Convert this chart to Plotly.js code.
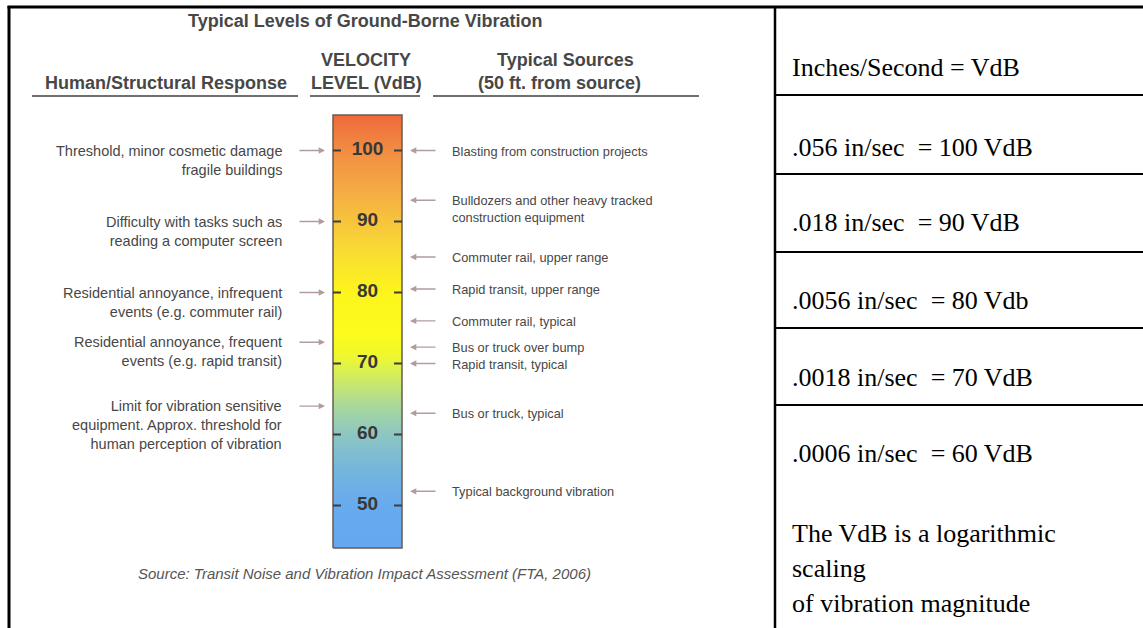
<!DOCTYPE html>
<html><head><meta charset="utf-8">
<script src="https://cdn.plot.ly/plotly-3.0.1.min.js"></script>
<style>html,body{margin:0;padding:0;background:#fff}</style>
</head><body><div id="chart" style="width:1143px;height:628px"></div>
<script>
// ---------------- DATA ----------------
const chartTitle = 'Typical Levels of Ground-Borne Vibration';
const headerResponse = 'Human/Structural Response';
const headerLevel = ['VELOCITY', 'LEVEL (VdB)'];
const headerSources = ['Typical Sources', '(50 ft. from source)'];
const scaleRange = [44, 105];               // VdB extent of the colour bar
const tickValues = [100, 90, 80, 70, 60, 50];
const tickLabels = ['100', '90', '80', '70', '60', '50'];
const gradientLevels = [44, 50, 55, 60, 64, 68, 71, 74, 80, 85, 90, 95, 100, 105];
const gradientColors = ['#66a8f0', '#68aaee', '#74b6dc', '#8cc6c2', '#a8d89c', '#d0ec60', '#eef830', '#fbfb1c',
                        '#fdf51c', '#f9e030', '#f7c43c', '#f4a844', '#f28c42', '#ee6a3a'];
const responseLevels = [100, 90, 80, 73, 64];
const responseLabels = [
  'Threshold, minor cosmetic damage<br>fragile buildings',
  'Difficulty with tasks such as<br>reading a computer screen',
  'Residential annoyance, infrequent<br>events (e.g. commuter rail)',
  'Residential annoyance, frequent<br>events (e.g. rapid transit)',
  'Limit for vibration sensitive<br>equipment. Approx. threshold for<br>human perception of vibration'
];
const sourceLevels = [100, 93, 85, 80.5, 76, 72.3, 70, 63, 52];
const sourceLabels = [
  'Blasting from construction projects',
  'Bulldozers and other heavy tracked<br>construction equipment',
  'Commuter rail, upper range',
  'Rapid transit, upper range',
  'Commuter rail, typical',
  'Bus or truck over bump',
  'Rapid transit, typical',
  'Bus or truck, typical',
  'Typical background vibration'
];
const sourceNote = 'Source: Transit Noise and Vibration Impact Assessment (FTA, 2006)';
const conversionLabels = ['Inches/Second = VdB', '.056 in/sec  = 100 VdB', '.018 in/sec  = 90 VdB',
                          '.0056 in/sec  = 80 Vdb', '.0018 in/sec  = 70 VdB', '.0006 in/sec  = 60 VdB'];
const noteLines = ['The VdB is a logarithmic', 'scaling', 'of vibration magnitude'];

// ---------------- LAYOUT CONSTANTS ----------------
const W = 1143, H = 628;
const PX_PER_VDB = 7.1, Y100 = 150.5;           // pixel row of 100 VdB
const yTop = 100 + Y100 / PX_PER_VDB;
const yBot = yTop - H / PX_PER_VDB;
const P = py => 1 - py / H;                      // pixel row -> paper
const BAR = {x0: 333, x1: 402};
const barMid = (BAR.x0 + BAR.x1) / 2;
const sans = 'Liberation Sans, Arial, sans-serif';
const serif = 'Liberation Serif, Times New Roman, serif';
const grey = '#474747';
const arrowCol = '#b39c9c';

// ---------------- TRACES ----------------
const span = scaleRange[1] - scaleRange[0];
const barTrace = {
  type: 'scatter', mode: 'lines', hoverinfo: 'skip', showlegend: false,
  x: [BAR.x0, BAR.x1, BAR.x1, BAR.x0, BAR.x0],
  y: [scaleRange[0], scaleRange[0], scaleRange[1], scaleRange[1], scaleRange[0]],
  fill: 'toself',
  fillgradient: {
    type: 'vertical', start: scaleRange[0], stop: scaleRange[1],
    colorscale: gradientLevels.map((l, i) => [(l - scaleRange[0]) / span, gradientColors[i]])
  },
  line: {color: '#6a5c52', width: 1.5}
};
const tickTextTrace = {
  type: 'scatter', mode: 'text', hoverinfo: 'skip', showlegend: false,
  x: tickValues.map(() => barMid), y: tickValues, text: tickLabels.map(t => '<b>' + t + '</b>'),
  textposition: 'middle center',
  textfont: {family: sans, size: 19, color: '#383838'}
};

// ---------------- SHAPES ----------------
const shapes = [];
tickValues.forEach(v => {
  shapes.push({type: 'line', xref: 'x', yref: 'y', x0: BAR.x0, x1: BAR.x0 + 8, y0: v, y1: v, line: {color: '#3d3d3d', width: 2}});
  shapes.push({type: 'line', xref: 'x', yref: 'y', x0: BAR.x1 - 8, x1: BAR.x1, y0: v, y1: v, line: {color: '#3d3d3d', width: 2}});
});
// header underlines
[[32, 298], [310, 420], [433, 699]].forEach(([a, b]) =>
  shapes.push({type: 'line', xref: 'x', yref: 'paper', x0: a, x1: b, y0: P(96), y1: P(96), line: {color: '#707070', width: 2}}));
// frame
shapes.push({type: 'line', xref: 'x', yref: 'paper', x0: 9, x1: 9, y0: P(6), y1: P(H), line: {color: '#000', width: 3}});
shapes.push({type: 'line', xref: 'x', yref: 'paper', x0: 7.5, x1: W, y0: P(7), y1: P(7), line: {color: '#000', width: 3}});
shapes.push({type: 'line', xref: 'x', yref: 'paper', x0: 775, x1: 775, y0: P(7), y1: P(H), line: {color: '#000', width: 2.5}});
const rowLines = [95, 174, 252, 328, 405];
rowLines.forEach(py => shapes.push({type: 'line', xref: 'x', yref: 'paper', x0: 775, x1: W, y0: P(py), y1: P(py), line: {color: '#000', width: 2}}));

// ---------------- ANNOTATIONS ----------------
const ann = [];
const txt = (text, x, py, size, opts = {}) => Object.assign({
  text, x, y: P(py), xref: 'x', yref: 'paper', showarrow: false, xanchor: 'center', yanchor: 'middle',
  font: {family: sans, size, color: grey}
}, opts);
ann.push(txt('<b>' + chartTitle + '</b>', 364.5, 21, 18));
ann.push(txt('<b>' + headerLevel[0] + '</b>', 366, 60, 18));
ann.push(txt('<b>' + headerLevel[1] + '</b>', 366, 83, 18));
ann.push(txt('<b>' + headerResponse + '</b>', 165.5, 83, 18));
ann.push(txt('<b>' + headerSources[0] + '</b>', 565, 60, 18));
ann.push(txt('<b>' + headerSources[1] + '</b>', 559, 83, 18));
ann.push(txt('<i>' + sourceNote + '</i>', 364, 573, 15, {font: {family: sans, size: 15, color: '#555'}}));

responseLevels.forEach((v, i) => {
  ann.push({x: 325, y: v, ax: 298, ay: v, xref: 'x', yref: 'y', axref: 'x', ayref: 'y', text: '',
            showarrow: true, arrowhead: 2, arrowsize: 0.9, arrowwidth: 1.4, arrowcolor: arrowCol, standoff: 0});
  ann.push({x: 284, y: v, xref: 'x', yref: 'y', text: responseLabels[i], showarrow: false,
            xanchor: 'right', yanchor: 'top', align: 'right', yshift: 10,
            font: {family: sans, size: 14.5, color: grey}});
});
sourceLevels.forEach((v, i) => {
  ann.push({x: 410, y: v, ax: 437, ay: v, xref: 'x', yref: 'y', axref: 'x', ayref: 'y', text: '',
            showarrow: true, arrowhead: 2, arrowsize: 0.9, arrowwidth: 1.4, arrowcolor: arrowCol, standoff: 0});
  ann.push({x: 450, y: v, xref: 'x', yref: 'y', text: sourceLabels[i], showarrow: false,
            xanchor: 'left', yanchor: 'top', align: 'left', yshift: 9,
            font: {family: sans, size: 12.8, color: grey}});
});

const convRows = [67, 147, 223, 301, 377, 454];
conversionLabels.forEach((t, i) => ann.push(txt(t, 790, convRows[i], 26,
  {xanchor: 'left', font: {family: serif, size: 26, color: '#000'}})));
const noteRows = [533, 568, 603];
noteLines.forEach((t, i) => ann.push(txt(t, 790, noteRows[i], 26,
  {xanchor: 'left', font: {family: serif, size: 26, color: '#000'}})));

const layout = {
  width: W, height: H, margin: {l: 0, r: 0, t: 0, b: 0},
  paper_bgcolor: '#fff', plot_bgcolor: '#fff', showlegend: false,
  xaxis: {range: [0, W], visible: false, fixedrange: true},
  yaxis: {range: [yBot, yTop], visible: false, fixedrange: true},
  shapes, annotations: ann
};
Plotly.newPlot('chart', [barTrace, tickTextTrace], layout, {displayModeBar: false, staticPlot: true});
</script></body></html>
